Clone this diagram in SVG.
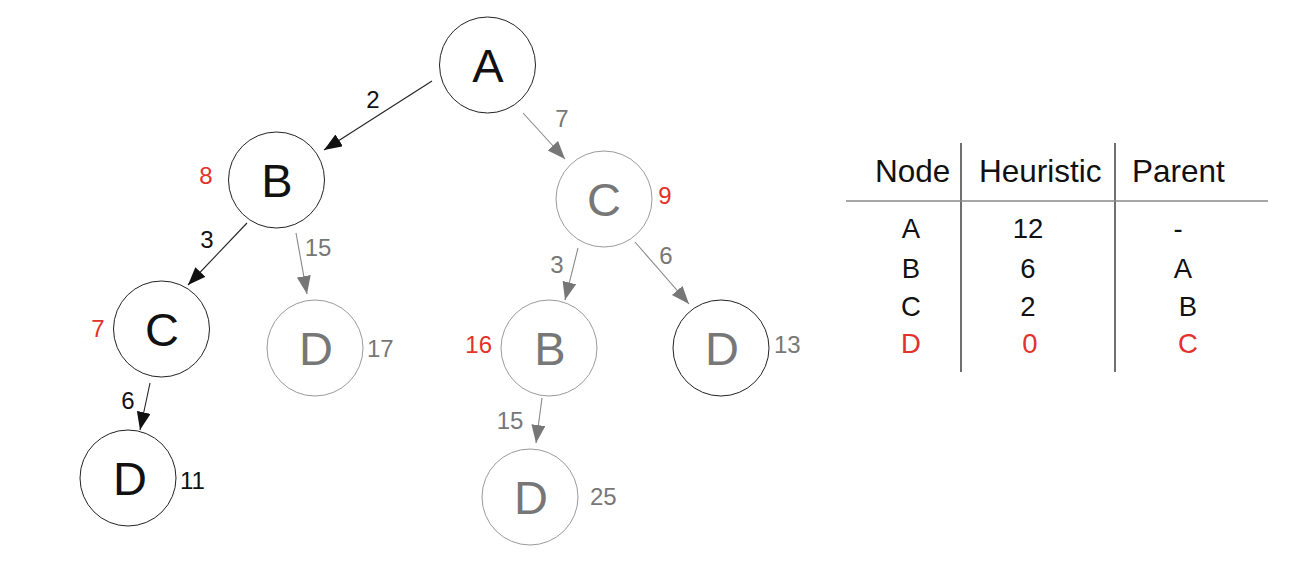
<svg xmlns="http://www.w3.org/2000/svg" width="1298" height="584" viewBox="0 0 1298 584">
<style>
text{font-family:"Liberation Sans",Arial,sans-serif}
.nb circle{fill:#fff;stroke:#222;stroke-width:1}
.ng circle{fill:#fff;stroke:#9a9a9a;stroke-width:1}
.nl{font-size:47px;text-anchor:middle}
.nb .nl{fill:#111}
.ng .nl{fill:#777}
.cost{font-size:24px}
.red{fill:#e3312b}
.gry{fill:#777}
.blk{fill:#111}
.eb{stroke:#222;stroke-width:1.1;fill:none;marker-end:url(#ab)}
.eg{stroke:#888;stroke-width:1.1;fill:none;marker-end:url(#ag)}
.el{font-size:24px;text-anchor:middle}
.th{font-size:31.5px;fill:#111}
.td{font-size:27.5px;text-anchor:middle}
</style>
<defs>
<marker id="ab" markerUnits="userSpaceOnUse" markerWidth="20" markerHeight="16" refX="18" refY="7" orient="auto"><path d="M0,0 L18,7 L0,14 z" fill="#111"/></marker>
<marker id="ag" markerUnits="userSpaceOnUse" markerWidth="20" markerHeight="16" refX="18" refY="7" orient="auto"><path d="M0,0 L18,7 L0,14 z" fill="#777"/></marker>
</defs>
<rect width="1298" height="584" fill="#fff"/>

<g id="connectors">
<line class="eb" x1="432" y1="81" x2="324" y2="150"/>
<line class="eg" x1="523" y1="113" x2="565" y2="159"/>
<line class="eb" x1="247" y1="223" x2="188" y2="285"/>
<line class="eg" x1="296" y1="233" x2="307" y2="294"/>
<line class="eb" x1="150" y1="383" x2="140" y2="430"/>
<line class="eg" x1="578" y1="248" x2="565" y2="300"/>
<line class="eg" x1="635" y1="242" x2="689" y2="304"/>
<line class="eg" x1="542" y1="398" x2="536" y2="443"/>
<text class="el blk" x="373" y="108">2</text>
<text class="el gry" x="562" y="127">7</text>
<text class="el blk" x="207" y="248">3</text>
<text class="el gry" x="318" y="256">15</text>
<text class="el blk" x="128" y="409">6</text>
<text class="el gry" x="557" y="273">3</text>
<text class="el gry" x="666" y="264">6</text>
<text class="el gry" x="510" y="429">15</text>
</g>

<g id="node-A" class="nb">
<circle cx="487.5" cy="65" r="48"/>
<text class="nl" x="488" y="82">A</text>
</g>
<g id="node-B1" class="nb">
<circle cx="276.5" cy="180" r="48"/>
<text class="nl" x="277" y="197">B</text>
<text class="cost red" x="206" y="184" text-anchor="middle">8</text>
</g>
<g id="node-C1" class="ng">
<circle cx="604" cy="199" r="48"/>
<text class="nl" x="604" y="216">C</text>
<text class="cost red" x="665" y="204" text-anchor="middle">9</text>
</g>
<g id="node-C2" class="nb">
<circle cx="161.5" cy="329" r="48"/>
<text class="nl" x="162" y="346">C</text>
<text class="cost red" x="98" y="337" text-anchor="middle">7</text>
</g>
<g id="node-D17" class="ng">
<circle cx="315" cy="348" r="48"/>
<text class="nl" x="316" y="365">D</text>
<text class="cost gry" x="367" y="357">17</text>
</g>
<g id="node-D11" class="nb">
<circle cx="128" cy="478" r="48"/>
<text class="nl" x="130" y="495">D</text>
<text class="cost blk" x="180" y="489">11</text>
</g>
<g id="node-B2" class="ng">
<circle cx="549" cy="348" r="48"/>
<text class="nl" x="550" y="365">B</text>
<text class="cost red" x="492" y="353" text-anchor="end">16</text>
</g>
<g id="node-D13">
<circle cx="721" cy="348" r="48" fill="#fff" stroke="#222" stroke-width="1"/>
<text class="nl gry" x="722" y="365">D</text>
<text class="cost gry" x="774" y="353">13</text>
</g>
<g id="node-D25" class="ng">
<circle cx="530" cy="497" r="48"/>
<text class="nl" x="531" y="514">D</text>
<text class="cost gry" x="590" y="505">25</text>
</g>

<g id="table">
<line x1="961" y1="143" x2="961" y2="372" stroke="#222" stroke-width="1.3"/>
<line x1="1115" y1="143" x2="1115" y2="372" stroke="#222" stroke-width="1.3"/>
<line x1="846" y1="201" x2="1268" y2="201" stroke="#888" stroke-width="1.5"/>
<text class="th" x="875" y="182">Node</text>
<text class="th" x="979" y="182">Heuristic</text>
<text class="th" x="1132" y="182">Parent</text>
<text class="td blk" x="911" y="238">A</text>
<text class="td blk" x="1028" y="238">12</text>
<text class="td blk" x="1178" y="238">-</text>
<text class="td blk" x="911" y="278">B</text>
<text class="td blk" x="1028" y="278">6</text>
<text class="td blk" x="1183" y="278">A</text>
<text class="td blk" x="911" y="316">C</text>
<text class="td blk" x="1028" y="316">2</text>
<text class="td blk" x="1188" y="316">B</text>
<text class="td red" x="911" y="353">D</text>
<text class="td red" x="1030" y="353">0</text>
<text class="td red" x="1188" y="353">C</text>
</g>
</svg>
